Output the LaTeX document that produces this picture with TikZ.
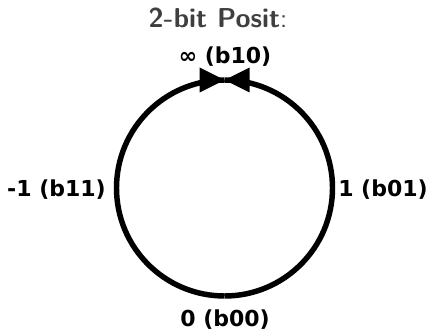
\documentclass[tikz,border=0pt]{standalone}
\usepackage{fontspec}
\newfontfamily\labfont{DejaVu Sans}
\definecolor{titlegray}{HTML}{3F3F3F}
\tikzset{
  ring/.style={line width=4.1pt},
  tiphead/.style={fill=black},
  lab/.style={font=\labfont\bfseries\fontsize{16.5}{18}\selectfont, inner sep=0pt},
  ttl/.style={font=\sffamily\bfseries\fontsize{20.5}{24}\selectfont, text=titlegray, inner sep=0pt}
}
\begin{document}
\begin{tikzpicture}[x=0.75pt,y=-0.75pt]
\useasboundingbox (0,0) rectangle (434,331);
\coordinate (c) at (224.5,188);
\coordinate (bot) at (224.5,296);
\coordinate (top) at (224.5,80);
\node[ttl] (title) at (218,18) {2-bit Posit{\mdseries:}};
\node[lab] (inf) at (225,57) {∞ (b10)};
\node[lab, anchor=east] (m1) at (106,190) {-1 (b11)};
\node[lab, anchor=west] (p1) at (338,190) {1 (b01)};
\node[lab] (zero) at (225,320) {0 (b00)};
\draw[ring] (bot) arc[start angle=90, end angle=-90, radius=108];
\draw[ring] (bot) arc[start angle=90, end angle=270, radius=108];
\fill[tiphead] (top) -- ++(-25,-12.5) -- ++(0,25) -- cycle;
\fill[tiphead] (top) -- ++(25,-12.5) -- ++(0,25) -- cycle;
\end{tikzpicture}
\end{document}
